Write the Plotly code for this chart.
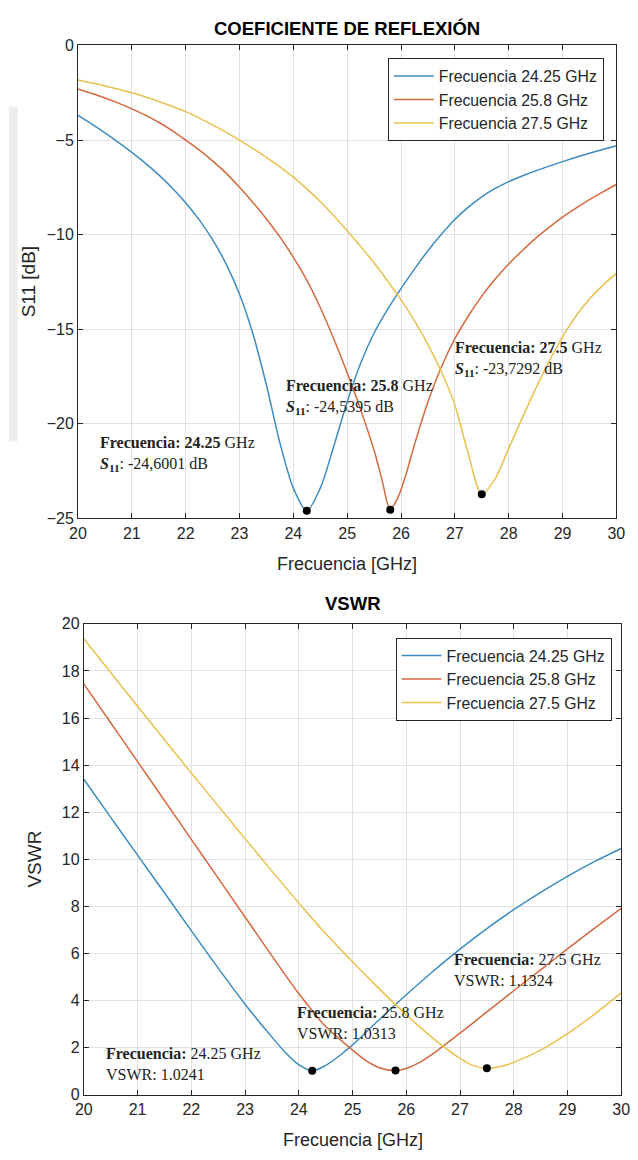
import plotly.graph_objects as go

W, H = 638, 1160

# ---------------- data: S11 (dB) ----------------
s11_f_a = [20, 20.25, 20.5, 20.75, 21, 21.25, 21.5, 21.75, 22, 22.25, 22.5, 22.75, 23, 23.25, 23.5, 23.75,
           24, 24.25, 24.5, 24.75, 25, 25.25, 25.5, 25.75, 26, 26.25, 26.5, 26.75, 27, 27.25, 27.5, 27.75,
           28, 28.25, 28.5, 29, 29.5, 30]
s11_db_a = [-3.70, -4.15, -4.62, -5.12, -5.65, -6.22, -6.84, -7.53, -8.31, -9.21, -10.27, -11.55, -13.15, -15.25, -17.95, -21.0,
            -23.4, -24.6, -23.4, -21.2, -18.85, -16.8, -15.2, -13.95, -12.85, -11.82, -10.85, -9.98, -9.2, -8.55, -8.0, -7.56,
            -7.2, -6.9, -6.63, -6.14, -5.7, -5.3]

s11_f_b = [20, 20.25, 20.5, 20.75, 21, 21.25, 21.5, 21.75, 22, 22.25, 22.5, 22.75, 23, 23.25, 23.5, 23.75,
           24, 24.25, 24.5, 24.75, 25, 25.25, 25.5, 25.65, 25.8, 25.95, 26.1, 26.25, 26.5, 26.75, 27, 27.25,
           27.5, 27.75, 28, 28.25, 28.5, 28.75, 29, 29.25, 29.5, 29.75, 30]
s11_db_b = [-2.30, -2.53, -2.78, -3.05, -3.35, -3.68, -4.06, -4.5, -5.0, -5.52, -6.1, -6.75, -7.5, -8.3, -9.17, -10.12,
            -11.2, -12.4, -13.85, -15.5, -17.3, -19.25, -21.4, -23.0, -24.54, -23.85, -22.6, -21.1, -18.85, -17.0, -15.5, -14.3,
            -13.25, -12.35, -11.55, -10.85, -10.2, -9.62, -9.08, -8.6, -8.15, -7.74, -7.35]

s11_f_c = [20, 20.5, 21, 21.5, 22, 22.5, 23, 23.5, 24, 24.25, 24.5, 24.75, 25, 25.25, 25.5, 25.75, 26, 26.25,
           26.5, 26.75, 27, 27.25, 27.5, 27.75, 28, 28.25, 28.5, 28.75, 29, 29.25, 29.5, 29.75, 30]
s11_db_c = [-1.83, -2.14, -2.5, -2.96, -3.5, -4.2, -5.0, -5.92, -6.96, -7.58, -8.25, -9.0, -9.8, -10.62, -11.5, -12.45, -13.45, -14.55,
            -15.8, -17.25, -19.0, -21.6, -23.73, -22.9, -21.3, -19.7, -18.15, -16.7, -15.4, -14.3, -13.4, -12.68, -12.05]

# ---------------- data: VSWR ----------------
vswr_f_a = [20, 20.5, 21, 21.5, 22, 22.5, 23, 23.5, 23.75, 24, 24.25, 24.5, 24.75, 25, 25.5, 26, 26.5, 27, 27.5, 28,
            28.5, 29, 29.5, 30]
vswr_a = [13.4, 11.78, 10.18, 8.58, 6.97, 5.38, 3.85, 2.45, 1.8, 1.28, 1.02, 1.25, 1.65, 2.12, 3.2, 4.25, 5.25, 6.19, 7.06, 7.86,
          8.6, 9.28, 9.9, 10.46]

vswr_f_b = [20, 20.5, 21, 21.5, 22, 22.5, 23, 23.5, 24, 24.5, 25, 25.25, 25.5, 25.8, 26, 26.25, 26.5, 27, 27.5, 28,
            28.5, 29, 29.5, 30]
vswr_b = [17.45, 15.8, 14.15, 12.5, 10.85, 9.2, 7.55, 5.9, 4.3, 2.9, 1.9, 1.45, 1.15, 1.03, 1.12, 1.38, 1.75, 2.62, 3.52, 4.42,
          5.31, 6.2, 7.07, 7.92]

vswr_f_c = [20, 20.5, 21, 21.5, 22, 22.5, 23, 23.5, 24, 24.5, 25, 25.5, 26, 26.5, 27, 27.25, 27.5, 27.75, 28, 28.5,
            29, 29.5, 30]
vswr_c = [19.37, 17.93, 16.5, 15.08, 13.67, 12.27, 10.88, 9.5, 8.15, 6.85, 5.65, 4.5, 3.4, 2.4, 1.55, 1.24, 1.13, 1.2, 1.38, 1.9,
          2.6, 3.42, 4.33]

series_names = ["Frecuencia 24.25 GHz", "Frecuencia 25.8 GHz", "Frecuencia 27.5 GHz"]
colors = ["#3C8CC2", "#D4693F", "#EAC04E"]

# marker (data tip) points
tip_f = [24.25, 25.8, 27.5]
tip_s11 = [-24.6001, -24.5395, -23.7292]
tip_s11_txt = ["-24,6001", "-24,5395", "-23,7292"]
tip_vswr = [1.0241, 1.0313, 1.1324]
tip_vswr_txt = ["1.0241", "1.0313", "1.1324"]
tip_freq_txt = ["24.25", "25.8", "27.5"]

# label positions (data coords)
s11_lab_x = [20.38, 23.83, 26.97]
s11_lab_y = [-21.6, -18.6, -16.6]
vswr_lab_x = [20.38, 23.93, 26.86]
vswr_lab_y = [1.3, 3.07, 5.29]

# ---------------- geometry ----------------
def px(x):
    return x / W

def py(y):
    return 1 - y / H

top_x0, top_x1, top_y0, top_y1 = 71, 625, 38, 518
bot_x0, bot_x1, bot_y0, bot_y1 = 77, 630, 625, 1103

fig = go.Figure()

s11_sets = [(s11_f_a, s11_db_a), (s11_f_b, s11_db_b), (s11_f_c, s11_db_c)]
vswr_sets = [(vswr_f_a, vswr_a), (vswr_f_b, vswr_b), (vswr_f_c, vswr_c)]

LINE_W = 1.5
for i, (f, v) in enumerate(s11_sets):
    fig.add_trace(go.Scatter(x=f, y=v, mode="lines", name=series_names[i],
                             line=dict(color=colors[i], width=LINE_W, shape="spline", smoothing=0.8),
                             xaxis="x", yaxis="y", legend="legend"))
fig.add_trace(go.Scatter(x=tip_f, y=tip_s11, mode="markers", showlegend=False,
                         marker=dict(color="black", size=8), xaxis="x", yaxis="y"))

for i, (f, v) in enumerate(vswr_sets):
    fig.add_trace(go.Scatter(x=f, y=v, mode="lines", name=series_names[i],
                             line=dict(color=colors[i], width=LINE_W, shape="spline", smoothing=0.8),
                             xaxis="x2", yaxis="y2", legend="legend2"))
fig.add_trace(go.Scatter(x=tip_f, y=tip_vswr, mode="markers", showlegend=False,
                         marker=dict(color="black", size=8), xaxis="x2", yaxis="y2"))

AX = "#262626"
GRID = "#E0E0E0"
SANS = "Liberation Sans, Arial"
TICKF = dict(family=SANS, size=16, color=AX)

def axis(domain, rng, dtick, anchor):
    return dict(domain=domain, range=rng, dtick=dtick, anchor=anchor,
                showgrid=True, gridcolor=GRID, gridwidth=1,
                showline=True, linecolor=AX, linewidth=1, mirror="ticks",
                ticks="inside", ticklen=5, tickcolor=AX, tickwidth=1,
                zeroline=False, tickfont=TICKF, fixedrange=True)

annotations = []
# titles
TITF = dict(family=SANS, size=18.5, color="black")
annotations.append(dict(text="<b>COEFICIENTE DE REFLEXIÓN</b>", x=px((top_x0 + top_x1) / 2), y=py(21),
                        xref="paper", yref="paper", showarrow=False, xanchor="center", yanchor="middle", font=TITF))
annotations.append(dict(text="<b>VSWR</b>", x=px((bot_x0 + bot_x1) / 2), y=py(604),
                        xref="paper", yref="paper", showarrow=False, xanchor="center", yanchor="middle", font=TITF))
# axis titles
AXT = dict(family=SANS, size=18, color=AX)
AXTY = dict(family=SANS, size=19, color=AX)
annotations.append(dict(text="Frecuencia [GHz]", x=px((top_x0 + top_x1) / 2), y=py(564),
                        xref="paper", yref="paper", showarrow=False, yanchor="middle", font=AXT))
annotations.append(dict(text="Frecuencia [GHz]", x=px((bot_x0 + bot_x1) / 2), y=py(1149),
                        xref="paper", yref="paper", showarrow=False, yanchor="middle", font=AXT))
annotations.append(dict(text="S11 [dB]", x=px(20), y=py((top_y0 + top_y1) / 2), textangle=-90,
                        xref="paper", yref="paper", showarrow=False, xanchor="center", yanchor="middle", font=AXTY))
annotations.append(dict(text="VSWR", x=px(26), y=py((bot_y0 + bot_y1) / 2), textangle=-90,
                        xref="paper", yref="paper", showarrow=False, xanchor="center", yanchor="middle", font=AXTY))

SERIF = dict(family="Liberation Serif, Times New Roman", size=16, color="#222222")
for i in range(3):
    annotations.append(dict(
        text="<b>Frecuencia: %s</b> GHz<br><b><i>S</i><sub>11</sub></b>: %s dB" % (tip_freq_txt[i], tip_s11_txt[i]),
        x=s11_lab_x[i], y=s11_lab_y[i], xref="x", yref="y", showarrow=False,
        xanchor="left", yanchor="middle", align="left", font=SERIF))
    annotations.append(dict(
        text="<b>Frecuencia:</b> %s GHz<br>VSWR: %s" % (tip_freq_txt[i], tip_vswr_txt[i]),
        x=vswr_lab_x[i], y=vswr_lab_y[i], xref="x2", yref="y2", showarrow=False,
        xanchor="left", yanchor="middle", align="left", font=SERIF))

LEGF = dict(family=SANS, size=15.8, color=AX)

fig.update_layout(
    width=W, height=H, margin=dict(l=0, r=0, t=0, b=0),
    paper_bgcolor="white", plot_bgcolor="white",
    xaxis=axis([px(top_x0), px(top_x1)], [20, 30], 1, "y"),
    yaxis=axis([py(top_y1), py(top_y0)], [-25, 0], 5, "x"),
    xaxis2=axis([px(bot_x0), px(bot_x1)], [20, 30], 1, "y2"),
    yaxis2=axis([py(bot_y1), py(bot_y0)], [0, 20], 2, "x2"),
    legend=dict(x=px(612), xanchor="right", y=py(51), yanchor="top", bgcolor="white",
                bordercolor=AX, borderwidth=1, font=LEGF, tracegroupgap=0, itemwidth=40),
    legend2=dict(x=px(620), xanchor="right", y=py(639), yanchor="top", bgcolor="white",
                 bordercolor=AX, borderwidth=1, font=LEGF, tracegroupgap=0, itemwidth=40),
    annotations=annotations,
    shapes=[dict(type="rect", xref="paper", yref="paper", x0=0, x1=px(9), y0=py(440), y1=py(100),
                 fillcolor="#EEEEEE", line=dict(width=0), layer="below")],
    showlegend=True,
)

fig.write_html("out.html")
